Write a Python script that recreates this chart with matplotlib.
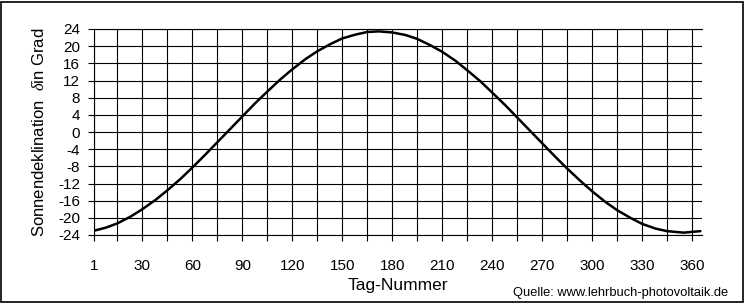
import matplotlib
matplotlib.use('Agg')
import matplotlib.pyplot as plt
from matplotlib.patches import Rectangle

plt.rcParams['font.family'] = ['Liberation Sans', 'DejaVu Sans']
plt.rcParams['axes.unicode_minus'] = False
plt.rcParams['mathtext.fontset'] = 'custom'
plt.rcParams['mathtext.it'] = 'Liberation Serif:italic'

# Sonnendeklination (degrees)
days = [1, 8, 15, 23, 30, 38, 45, 53, 60, 68, 75, 83, 90, 98, 105, 113, 120,
        128, 135, 143, 150, 158, 165, 172, 180, 188, 195, 203, 210, 218, 225,
        233, 240, 248, 255, 263, 270, 278, 285, 293, 300, 308, 315, 323, 330,
        338, 345, 355, 365]
decl = [-23.0, -22.3, -21.3, -19.7, -18.0, -15.8, -13.6, -10.9, -8.3, -5.2,
        -2.4, 0.8, 3.6, 6.8, 9.4, 12.3, 14.6, 17.0, 18.8, 20.5, 21.8, 22.7,
        23.3, 23.45, 23.2, 22.6, 21.7, 20.2, 18.7, 16.6, 14.4, 11.8, 9.2, 6.2,
        3.4, 0.2, -2.6, -5.8, -8.5, -11.4, -13.8, -16.3, -18.2, -20.0, -21.4,
        -22.5, -23.1, -23.45, -23.1]

x_ticks = [1, 30, 60, 90, 120, 150, 180, 210, 240, 270, 300, 330, 360]
x_minor = [15, 45, 75, 105, 135, 165, 195, 225, 255, 285, 315, 345]
y_ticks = list(range(-24, 25, 4))

fig = plt.figure(figsize=(7.47, 3.04), dpi=100)
ax = fig.add_axes([94 / 747, 1 - 235 / 304, 608 / 747, 206 / 304])

ax.plot(days, decl, color='black', linewidth=1.8, solid_capstyle='round')

ax.set_xlim(1, 366)
ax.set_ylim(-24, 24)
ax.set_xticks(x_ticks)
ax.set_xticks(x_minor, minor=True)
ax.set_yticks(y_ticks)
ax.set_yticklabels([str(v) for v in y_ticks])
ax.grid(True, which='both', color='black', linewidth=0.8)
ax.set_axisbelow(True)

ax.tick_params(axis='both', which='both', direction='out', length=4,
               width=0.8, color='black', labelsize=11)
ax.tick_params(axis='x', pad=13)
ax.tick_params(axis='y', pad=6)

for side in ['left', 'bottom', 'top']:
    ax.spines[side].set_linewidth(0.8)
ax.spines['right'].set_visible(False)

ax.set_xlabel('Tag-Nummer', fontsize=12.5, labelpad=4)
ax.set_ylabel(r'Sonnendeklination  $\delta$in Grad', fontsize=12, labelpad=8)

fig.text(728 / 747, 1 - 293 / 304, 'Quelle: www.lehrbuch-photovoltaik.de',
         fontsize=9.3, ha='right', va='center')

# outer frame
fig.patches.append(Rectangle((1.5 / 747, 1 - 302 / 304), 741.5 / 747, 300.5 / 304,
                             transform=fig.transFigure, fill=False,
                             edgecolor='black', linewidth=1.2))

fig.savefig('out.png', dpi=100)
